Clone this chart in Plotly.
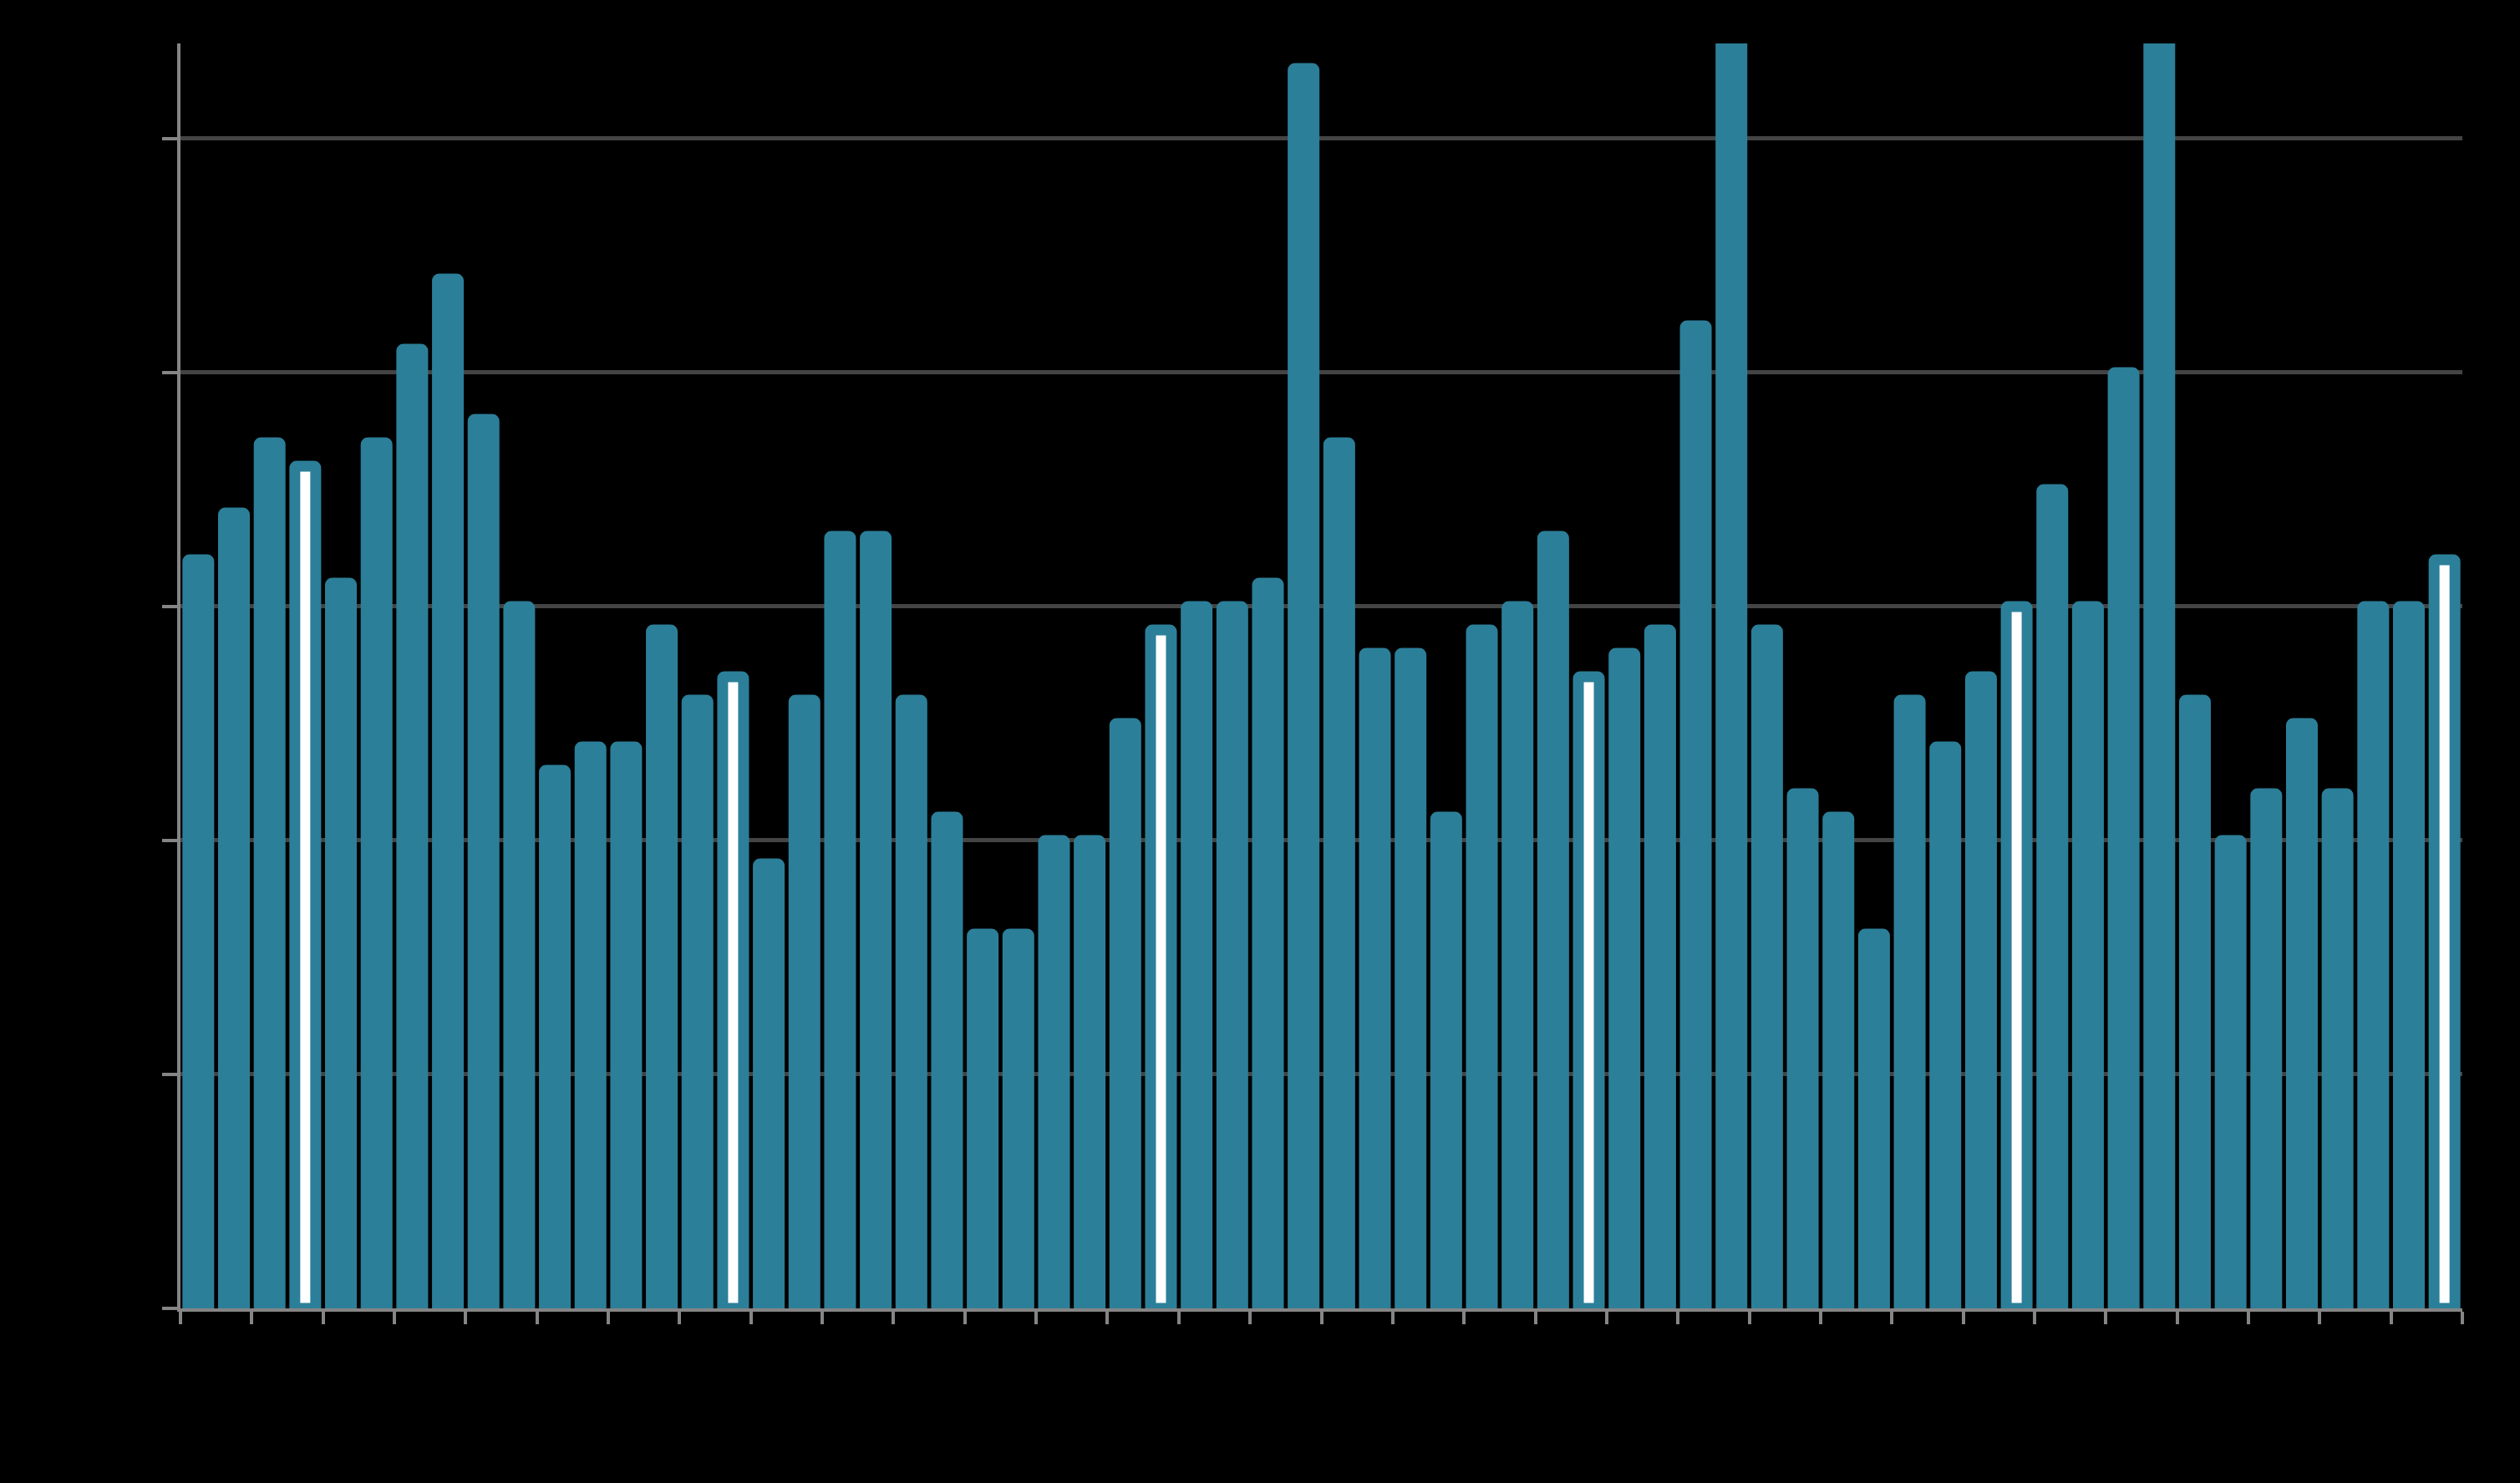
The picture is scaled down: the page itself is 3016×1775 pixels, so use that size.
import plotly.graph_objects as go

# ---- data ----
categories = [f"P{i+1}" for i in range(64)]
values = [32, 34, 37, 36, 31, 37, 41, 44, 38, 30,
          23, 24, 24, 29, 26, 27, 19, 26, 33, 33,
          26, 21, 16, 16, 20, 20, 25, 29, 30, 30,
          31, 53, 37, 28, 28, 21, 29, 30, 33, 27,
          28, 29, 42, 56, 29, 22, 21, 16, 26, 24,
          27, 30, 35, 30, 40, 58, 26, 20, 22, 25,
          22, 30, 30, 32]
highlighted = ["P4", "P16", "P28", "P40", "P52", "P64"]
y_ticks = [0, 10, 20, 30, 40, 50]

TEAL = "#2c7f99"
x_pos = list(range(len(categories)))
bar_colors = ["#ffffff" if c in highlighted else TEAL for c in categories]
x_tickvals = [i - 0.5 for i in range(0, len(categories) + 1, 2)]

fig = go.Figure(go.Bar(
    x=x_pos,
    y=values,
    text=categories,
    textposition="none",
    marker=dict(color=bar_colors, line=dict(color=TEAL, width=13), cornerradius=2),
    width=0.586,
))

fig.update_layout(
    width=3016, height=1775,
    margin=dict(l=216, r=69, t=52, b=209),
    paper_bgcolor="#000000", plot_bgcolor="#000000",
    showlegend=False,
    font=dict(family="Roboto", size=30, color="#000000"),
)
fig.update_xaxes(
    range=[-0.5, len(categories) - 0.5],
    tickvals=x_tickvals,
    ticktext=["" for _ in x_tickvals],
    ticks="outside", ticklen=15, tickwidth=4, tickcolor="#858585",
    showline=True, linecolor="#858585", linewidth=4,
    showgrid=False, zeroline=False,
)
fig.update_yaxes(
    range=[0, 54.07],
    tickvals=y_ticks,
    ticks="outside", ticklen=18, tickwidth=4, tickcolor="#858585",
    showline=True, linecolor="#858585", linewidth=4,
    showgrid=True, gridcolor="#444444", gridwidth=5,
    zeroline=False,
    tickfont=dict(color="#000000"),
)

fig.write_html(
    "out.html",
    config={"displayModeBar": False},
    post_script="document.body.style.margin='0';document.body.style.background='#000';"
                "document.body.style.overflow='hidden';",
)
